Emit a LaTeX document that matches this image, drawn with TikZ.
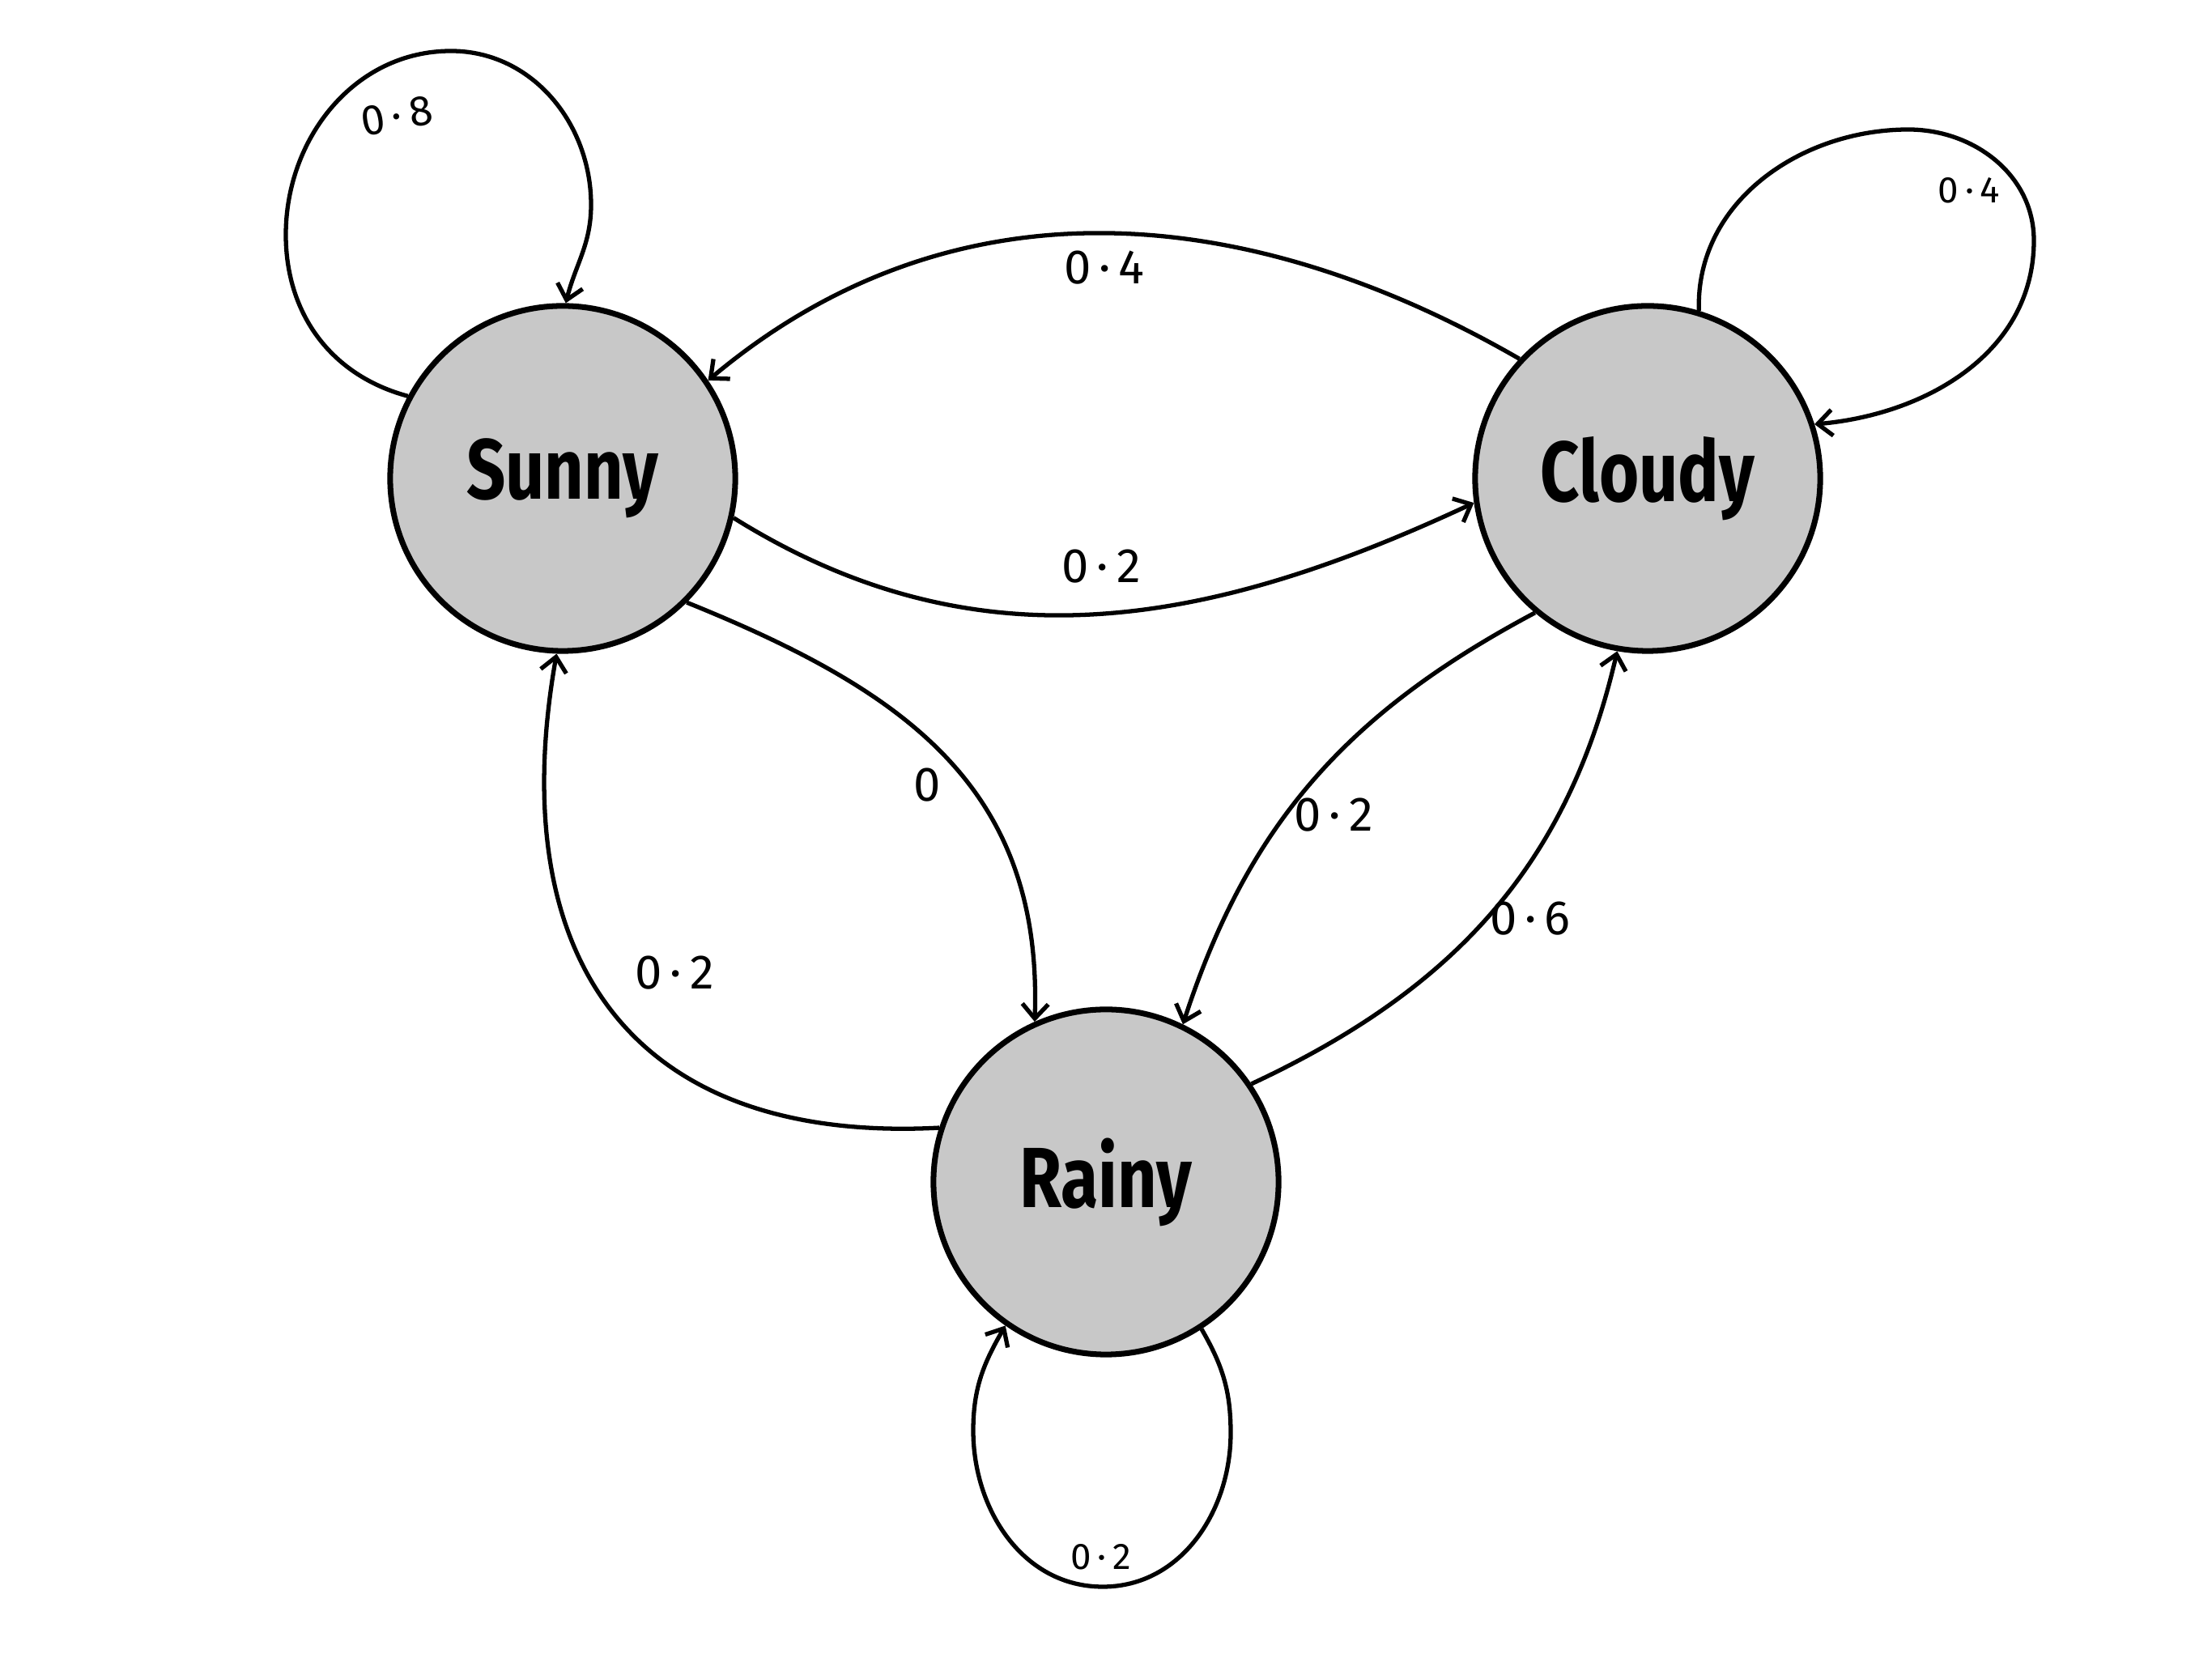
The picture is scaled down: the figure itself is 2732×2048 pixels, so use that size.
\documentclass[tikz,border=0pt]{standalone}
\usepackage{fontspec}
\setmainfont{Fira Sans}
\usetikzlibrary{arrows.meta}
\definecolor{stategray}{HTML}{C8C8C8}
\newcommand{\statename}[1]{\scalebox{0.8}[1]{\bfseries #1}}
\begin{document}
\begin{tikzpicture}[x=0.01cm,y=0.01cm,
  state/.style={circle, draw, line width=2pt, fill=stategray, minimum size=4.26cm, inner sep=0pt, font=\fontsize{30}{34}\selectfont},
  edge/.style={line width=1.5pt, -{Straight Barb[length=0.18cm,width=0.32cm]}},
  lbl/.style={font=\fontsize{17}{20}\selectfont, inner sep=1pt},
  mlbl/.style={font=\fontsize{15}{18}\selectfont, inner sep=1pt},
  slbl/.style={font=\fontsize{13}{16}\selectfont, inner sep=1pt}]
\fill[white] (0,0) rectangle (2732,2048);
\useasboundingbox (0,0) rectangle (2732,2048);

\node[state] (S) at (695,1457) {\statename{Sunny}};
\node[state] (C) at (2035,1457) {\statename{Cloudy}};
\node[state] (R) at (1366,588) {\statename{Rainy}};

% self loops
\draw[edge] (S.152) to[out=165,in=270] (353,1758) to[out=90,in=180] (557,1985)
  to[out=0,in=90] (730,1795) to[out=270,in=76] (S.89);
\draw[edge] (C.73) to[out=92,in=180] (2357,1888) to[out=0,in=90] (2512,1751)
  to[out=270,in=5] (C.18);
\draw[edge] (R.-57) to[out=-60,in=90] (1520,278) to[out=270,in=0] (1362,88)
  to[out=180,in=270] (1202,281) to[out=90,in=240] (R.235);

% transitions
\draw[edge] (C.137) to[out=150,in=40] (S.34);
\draw[edge] (S.-13.5) to[out=-32,in=205] (C.188);
\draw[edge] (S.-45) to[out=-22,in=88,looseness=1.1] (R.114);
\draw[edge] (R.162) to[out=183,in=260,looseness=1.3] (S.268);
\draw[edge] (C.230) to[out=208,in=72] (R.64);
\draw[edge] (R.34) to[out=25,in=257] (C.260);

% labels
\node[mlbl, rotate=10] (l1) at (490,1905) {0\,·\,8};
\node[slbl] (l2) at (2432,1813) {0\,·\,4};
\node[lbl] (l3) at (1364,1717) {0\,·\,4};
\node[lbl] (l4) at (1360,1348) {0\,·\,2};
\node[lbl] (l5) at (1145,1078) {0};
\node[lbl] (l6) at (833,846) {0\,·\,2};
\node[lbl] (l7) at (1647,1041) {0\,·\,2};
\node[lbl] (l8) at (1890,913) {0\,·\,6};
\node[slbl] (l9) at (1360,125) {0\,·\,2};
\end{tikzpicture}
\end{document}
